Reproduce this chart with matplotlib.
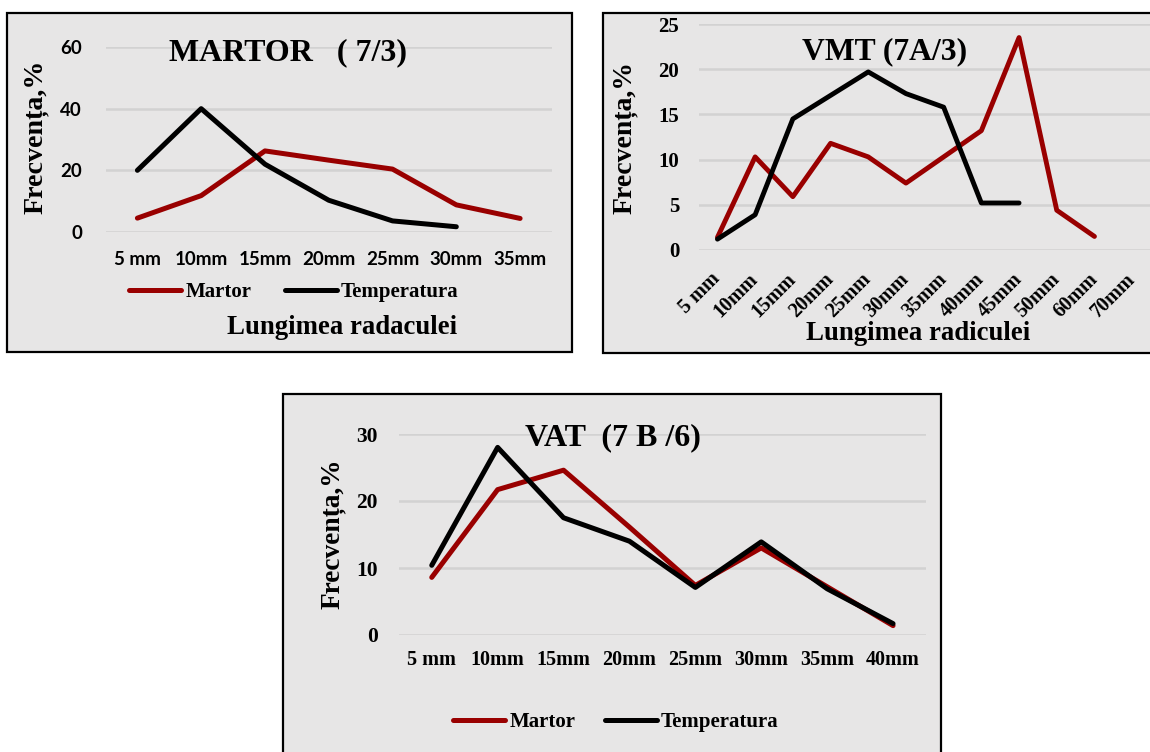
import numpy as np
import matplotlib
matplotlib.use("Agg")
import matplotlib.pyplot as plt
from matplotlib.patches import Rectangle

W, H = 1150, 752
RED = "#990000"
BOX = "#e7e6e6"
GRID = "#d2d2d2"
SERIF = "Liberation Serif"
SANS = "Lato"

# --- data ---
cat_martor = ["5 mm", "10mm", "15mm", "20mm", "25mm", "30mm", "35mm"]
martor_m = [4.5, 11.8, 26.3, 23.3, 20.4, 8.8, 4.4]
martor_t = [20.0, 40.0, 22.0, 10.3, 3.6, 1.7, np.nan]

cat_vmt = ["5 mm", "10mm", "15mm", "20mm", "25mm", "30mm", "35mm",
           "40mm", "45mm", "50mm", "60mm", "70mm"]
vmt_m = [1.4, 10.3, 5.9, 11.8, 10.3, 7.4, 10.3, 13.2, 23.5, 4.4, 1.5, np.nan]
vmt_t = [1.2, 3.9, 14.5, 17.1, 19.7, 17.3, 15.8, 5.2, 5.2, np.nan, np.nan, np.nan]

cat_vat = ["5 mm", "10mm", "15mm", "20mm", "25mm", "30mm", "35mm", "40mm"]
vat_m = [8.6, 21.7, 24.6, 16.1, 7.4, 13.0, 7.2, 1.4]
vat_t = [10.4, 28.0, 17.5, 14.0, 7.1, 13.9, 6.9, 1.7]

fig = plt.figure(figsize=(W / 100, H / 100), dpi=100)
fig.patch.set_facecolor("white")


def fx(px):
    return px / W


def fy(py):
    return 1 - py / H


def box(x0, y0, x1, y1):
    fig.add_artist(Rectangle((fx(x0), fy(y1)), (x1 - x0) / W, (y1 - y0) / H,
                             transform=fig.transFigure, facecolor=BOX,
                             edgecolor="black", lw=1.6, zorder=-5))


def panel(x0, x1, ytop, ybot, cats, ser_m, ser_t, ymax, ystep, lw):
    ax = fig.add_axes([fx(x0), fy(ybot), (x1 - x0) / W, (ybot - ytop) / H])
    ax.set_facecolor("none")
    x = np.arange(len(cats))
    lm, = ax.plot(x, ser_m, color=RED, lw=lw, solid_capstyle="round",
                  solid_joinstyle="round", label="Martor", zorder=3)
    lt, = ax.plot(x, ser_t, color="black", lw=lw, solid_capstyle="round",
                  solid_joinstyle="round", label="Temperatura", zorder=4)
    ax.set_xlim(-0.5, len(cats) - 0.5)
    ax.set_ylim(0, ymax)
    ax.set_yticks(np.arange(0, ymax + 1, ystep))
    ax.set_xticks(x)
    ax.yaxis.grid(True, color=GRID, lw=1.8)
    ax.set_axisbelow(True)
    for s in ax.spines.values():
        s.set_visible(False)
    ax.tick_params(length=0)
    return ax, lm, lt


# ---------- panel 1: MARTOR ----------
box(7, 13, 572, 352)
ax1, l1m, l1t = panel(105.5, 552, 47, 232, cat_martor, martor_m, martor_t, 60, 20, 3.6)
ax1.set_xticklabels(cat_martor, fontfamily=SANS, fontweight="bold", fontsize=13.5)
ax1.set_yticklabels([str(v) for v in range(0, 61, 20)], fontfamily=SANS,
                    fontweight="bold", fontsize=13.5)
ax1.tick_params(axis="x", pad=14)
ax1.tick_params(axis="y", pad=17)
fig.text(fx(288), fy(53), "MARTOR   ( 7/3)", fontfamily=SERIF, fontweight="bold",
         fontsize=23, ha="center", va="center")
fig.text(fx(36), fy(137), "Frecvența,%", fontfamily=SERIF, fontweight="bold",
         fontsize=20.2, rotation=90, ha="center", va="center")
fig.text(fx(342), fy(328), "Lungimea radaculei", fontfamily=SERIF, fontweight="bold",
         fontsize=19.3, ha="center", va="center")
ax1.legend(handles=[l1m, l1t], loc="center", bbox_to_anchor=(fx(294), fy(292)),
           bbox_transform=fig.transFigure, ncol=2, frameon=False,
           prop={"family": SERIF, "weight": "bold", "size": 15},
           handlelength=2.5, handletextpad=0.2, columnspacing=1.6)

# ---------- panel 2: VMT ----------
box(603, 13, 1170, 353)
ax2, l2m, l2t = panel(698.6, 1151, 24, 250, cat_vmt, vmt_m, vmt_t, 25, 5, 3.5)
ax2.set_xticklabels(cat_vmt, fontfamily=SERIF, fontweight="bold", fontsize=14.5,
                    rotation=45, ha="right", va="center", rotation_mode="anchor")
ax2.set_yticklabels([str(v) for v in range(0, 26, 5)], fontfamily=SERIF,
                    fontweight="bold", fontsize=15)
ax2.tick_params(axis="x", pad=19)
ax2.tick_params(axis="y", pad=14)
fig.text(fx(885), fy(52), "VMT (7A/3)", fontfamily=SERIF, fontweight="bold",
         fontsize=22.8, ha="center", va="center")
fig.text(fx(625), fy(137), "Frecvența,%", fontfamily=SERIF, fontweight="bold",
         fontsize=20, rotation=90, ha="center", va="center")
fig.text(fx(918), fy(334), "Lungimea radiculei", fontfamily=SERIF, fontweight="bold",
         fontsize=19.3, ha="center", va="center")

# ---------- panel 3: VAT ----------
box(283, 394, 941, 770)
ax3, l3m, l3t = panel(398.8, 926, 434, 635, cat_vat, vat_m, vat_t, 30, 10, 3.6)
ax3.set_xticklabels(cat_vat, fontfamily=SERIF, fontweight="bold", fontsize=14.5)
ax3.set_yticklabels([str(v) for v in range(0, 31, 10)], fontfamily=SERIF,
                    fontweight="bold", fontsize=15.5)
ax3.tick_params(axis="x", pad=11)
ax3.tick_params(axis="y", pad=15)
fig.text(fx(613), fy(438), "VAT  (7 B /6)", fontfamily=SERIF, fontweight="bold",
         fontsize=23, ha="center", va="center")
fig.text(fx(333), fy(534), "Frecvența,%", fontfamily=SERIF, fontweight="bold",
         fontsize=19.7, rotation=90, ha="center", va="center")
ax3.legend(handles=[l3m, l3t], loc="center", bbox_to_anchor=(fx(616), fy(722)),
           bbox_transform=fig.transFigure, ncol=2, frameon=False,
           prop={"family": SERIF, "weight": "bold", "size": 15},
           handlelength=2.5, handletextpad=0.2, columnspacing=1.4)

fig.savefig("out.png", dpi=100)
